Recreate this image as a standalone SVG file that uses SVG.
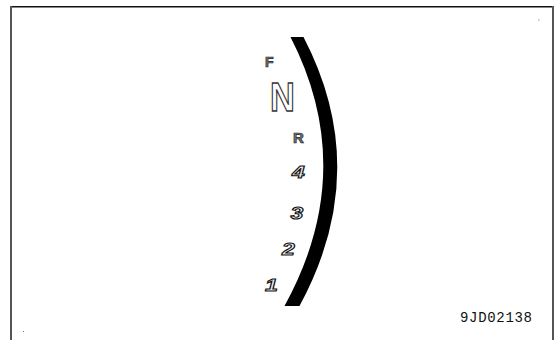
<svg xmlns="http://www.w3.org/2000/svg" width="556" height="340" viewBox="0 0 556 340">
<style>
.gear{font-family:"Liberation Sans",Arial,sans-serif;font-weight:bold;fill:#777;stroke:#222;stroke-width:0.7}
.num{font-family:"Liberation Sans",Arial,sans-serif;font-weight:bold;font-style:italic;font-size:17px;fill:#eee;stroke:#111;stroke-width:1}
.code{font-family:"Liberation Mono","Courier New",monospace;font-size:14px;fill:#111}
</style>
<rect width="556" height="340" fill="#fff"/>
<g id="frame">
<line x1="10" y1="6.7" x2="553" y2="6.7" stroke="#111" stroke-width="1.5"/>
<line x1="11" y1="6" x2="11" y2="340" stroke="#555" stroke-width="2"/>
<line x1="553" y1="6" x2="553" y2="340" stroke="#555" stroke-width="2"/>
<rect x="23" y="331" width="1" height="1" fill="#777"/>
<rect x="538" y="19.5" width="1.5" height="1" fill="#999"/>
</g>
<g id="arc">
<path d="M290.5,37 Q359,170.5 284.5,306 L299.5,306 Q373,170.5 303.5,37 Z" fill="#000"/>
</g>
<g id="labels">
<text id="F" class="gear" x="265" y="67" font-size="14">F</text>
<text id="N" transform="translate(270,111) scale(0.84,1)" font-family="Liberation Sans,Arial,sans-serif" font-weight="bold" font-size="41" fill="#fff" stroke="#333" stroke-width="1.3">N</text>
<text id="R" class="gear" x="293" y="143" font-size="15">R</text>
<text id="g4" class="num" transform="translate(292,178) scale(1.35,1)">4</text>
<text id="g3" class="num" transform="translate(290.5,219) scale(1.35,1)">3</text>
<text id="g2" class="num" transform="translate(282,255) scale(1.35,1)">2</text>
<text id="g1" class="num" transform="translate(265,291) scale(1.35,1)">1</text>
</g>
<text id="code" class="code" x="460" y="322" textLength="72">9JD02138</text>
</svg>
